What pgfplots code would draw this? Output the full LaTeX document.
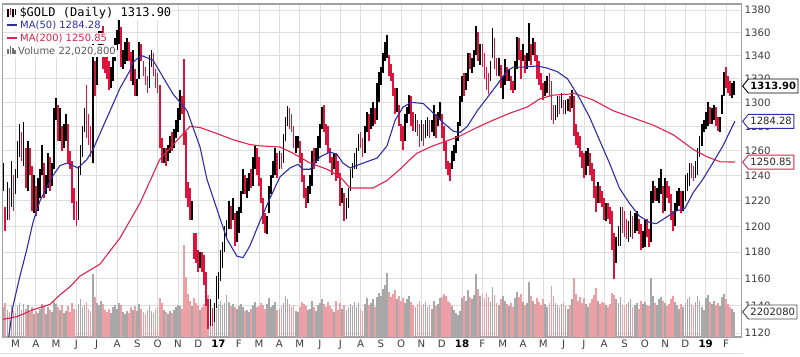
\documentclass[border=0pt]{standalone}
\usepackage{pgfplots}
\usepackage{pgfplotstable}
\pgfplotsset{compat=1.18}
\usetikzlibrary{shapes.symbols}
\usepackage{fontspec}
\setmainfont{DejaVu Sans}
\newfontfamily\monofont{DejaVu Sans Mono}
\definecolor{dncol}{RGB}{220,20,60}
\definecolor{ma50}{RGB}{45,45,165}
\definecolor{ma200}{RGB}{222,35,75}
\definecolor{volgray}{RGB}{168,168,168}
\definecolor{volpink}{RGB}{236,160,165}
\definecolor{gridc}{RGB}{222,222,222}
\definecolor{framec}{RGB}{160,160,160}
\definecolor{labc}{RGB}{60,60,60}

\pgfplotstableread{
x l h c v
1.4 1228 1250 1 2.6
1.5 1196 1215 0 3.0
1.6 1205 1235 1 2.4
1.7 1205 1230 0 2.2
1.8 1215 1252 1 2.8
1.9 1212 1240 0 2.3
2.0 1225 1245 1 2.1
2.1 1238 1268 1 2.7
2.2 1255 1282 1 3.0
2.3 1252 1275 0 2.4
2.4 1248 1284 1 2.9
2.5 1230 1262 0 2.5
2.6 1228 1268 1 2.8
2.7 1240 1262 0 2.2
2.8 1212 1248 0 2.6
2.9 1210 1240 1 2.0
3.0 1208 1232 0 2.3
3.1 1212 1238 1 2.1
3.2 1222 1245 1 2.5
3.3 1240 1265 1 2.9
3.4 1222 1250 0 2.7
3.5 1225 1240 1 2.0
3.6 1230 1258 1 2.6
3.7 1228 1255 0 2.4
3.8 1232 1250 1 2.2
3.9 1245 1295 1 3.1
4.0 1285 1304 1 2.9
4.1 1268 1298 0 2.6
4.2 1268 1295 1 2.4
4.3 1260 1280 0 2.8
4.4 1262 1282 1 2.1
4.5 1268 1290 1 2.3
4.6 1250 1282 0 2.7
4.7 1245 1260 0 2.2
4.8 1218 1252 0 3.0
4.9 1205 1230 0 2.5
5.0 1200 1220 0 2.4
5.1 1205 1248 1 2.9
5.2 1240 1265 1 3.3
5.3 1255 1280 1 2.6
5.4 1275 1295 1 2.8
5.5 1270 1315 0 3.1
5.6 1265 1290 0 2.5
5.7 1255 1280 0 2.3
5.8 1250 1358 1 5.5
5.9 1305 1335 0 3.5
6.0 1315 1345 1 3.0
6.1 1340 1362 1 2.8
6.2 1345 1375 1 3.2
6.3 1328 1366 0 2.9
6.4 1325 1345 0 2.4
6.5 1320 1340 0 2.2
6.6 1310 1335 0 2.5
6.7 1312 1330 1 2.1
6.8 1318 1342 1 2.6
6.9 1335 1355 1 2.8
7.0 1345 1362 1 2.5
7.1 1350 1372 1 3.0
7.2 1330 1365 0 2.8
7.3 1328 1345 1 2.2
7.4 1333 1352 1 2.0
7.5 1335 1355 1 2.3
7.6 1335 1352 0 2.1
7.7 1318 1343 0 2.6
7.8 1315 1345 1 2.4
7.9 1305 1328 0 2.7
8.0 1305 1320 1 2.3
8.1 1320 1352 1 2.9
8.2 1335 1350 0 2.5
8.3 1322 1335 0 2.2
8.4 1315 1330 0 2.0
8.5 1308 1322 0 2.4
8.6 1312 1340 1 2.7
8.7 1330 1345 1 2.3
8.8 1322 1342 0 2.1
8.9 1312 1328 0 2.5
9.0 1308 1325 0 2.6
9.1 1262 1315 0 3.4
9.2 1250 1270 0 3.0
9.3 1250 1262 1 2.4
9.4 1248 1262 0 2.2
9.5 1252 1265 1 2.0
9.6 1258 1272 1 2.3
9.7 1260 1275 0 2.1
9.8 1262 1278 1 2.4
9.9 1270 1285 1 2.6
10.0 1275 1295 1 2.8
10.1 1285 1310 1 2.7
10.2 1290 1305 0 2.5
10.3 1265 1337 0 8.1
10.4 1222 1275 0 5.3
10.5 1215 1235 0 3.8
10.6 1205 1230 0 3.2
10.7 1205 1220 1 2.7
10.8 1175 1195 0 3.4
10.9 1172 1195 0 3.0
11.0 1165 1182 0 2.8
11.1 1168 1180 1 2.4
11.2 1165 1180 0 2.6
11.3 1155 1178 0 2.9
11.4 1140 1165 0 3.5
11.5 1123 1145 0 3.7
11.6 1125 1145 1 2.8
11.7 1125 1138 0 2.3
11.8 1128 1142 1 2.0
11.9 1138 1162 1 2.5
12.0 1145 1165 1 2.9
12.1 1158 1182 1 3.2
12.2 1168 1188 1 2.8
12.3 1180 1200 1 3.0
12.4 1190 1205 1 3.7
12.5 1198 1220 1 3.1
12.6 1198 1216 0 2.7
12.7 1205 1222 1 2.9
12.8 1185 1210 0 2.6
12.9 1188 1212 1 2.5
13.0 1195 1215 1 2.7
13.1 1210 1228 1 2.9
13.2 1225 1245 1 2.6
13.3 1225 1240 0 2.3
13.4 1222 1238 1 2.4
13.5 1228 1242 1 2.2
13.6 1230 1245 0 2.5
13.7 1232 1255 1 2.8
13.8 1245 1264 1 3.1
13.9 1240 1262 0 2.6
14.0 1232 1255 0 2.7
14.1 1218 1238 0 3.0
14.2 1202 1222 0 2.8
14.3 1195 1210 0 2.5
14.4 1194 1208 1 2.9
14.5 1210 1232 1 3.4
14.6 1225 1240 1 2.6
14.7 1238 1252 1 2.8
14.8 1240 1262 1 3.1
14.9 1238 1258 0 2.4
15.0 1245 1260 1 2.5
15.1 1245 1258 0 2.7
15.2 1250 1274 1 3.0
15.3 1268 1288 1 3.6
15.4 1280 1297 1 3.3
15.5 1278 1295 0 2.9
15.6 1275 1290 0 2.6
15.7 1262 1280 0 2.8
15.8 1258 1272 1 2.3
15.9 1262 1272 1 2.2
16.0 1250 1268 0 2.6
16.1 1235 1258 0 3.1
16.2 1222 1240 0 2.9
16.3 1214 1230 0 2.7
16.4 1218 1232 1 2.4
16.5 1225 1240 1 2.5
16.6 1232 1260 1 3.2
16.7 1245 1262 0 2.6
16.8 1250 1262 1 2.3
16.9 1252 1272 1 2.8
17.0 1262 1282 1 3.0
17.1 1278 1296 1 3.3
17.2 1275 1298 0 2.9
17.3 1265 1282 0 2.6
17.4 1258 1280 0 3.1
17.5 1250 1262 0 2.7
17.6 1240 1255 0 2.5
17.7 1245 1258 1 2.2
17.8 1236 1258 0 3.2
17.9 1238 1252 0 2.4
18.0 1216 1242 0 3.0
18.1 1218 1230 1 2.5
18.2 1204 1226 0 2.8
18.3 1206 1222 1 2.4
18.4 1214 1230 1 2.6
18.5 1228 1245 1 2.9
18.6 1238 1250 1 2.7
18.7 1245 1258 1 3.1
18.8 1245 1262 1 2.6
18.9 1260 1274 1 3.0
19.0 1262 1275 0 2.5
19.1 1255 1270 0 2.3
19.2 1258 1280 1 2.9
19.3 1275 1292 1 3.4
19.4 1268 1290 0 2.8
19.5 1278 1295 1 3.0
19.6 1280 1300 1 3.3
19.7 1282 1295 0 2.6
19.8 1285 1316 1 3.5
19.9 1300 1326 1 3.9
20.0 1315 1330 1 3.6
20.1 1325 1342 1 4.2
20.2 1335 1352 1 4.6
20.3 1338 1358 1 5.6
20.4 1322 1340 0 4.0
20.5 1318 1333 0 3.5
20.6 1305 1325 0 3.8
20.7 1290 1312 0 4.1
20.8 1292 1312 1 3.3
20.9 1280 1298 0 3.6
21.0 1268 1282 0 3.2
21.1 1261 1280 0 3.4
21.2 1268 1290 1 3.0
21.3 1283 1296 1 3.3
21.4 1290 1306 1 3.6
21.5 1280 1305 0 3.1
21.6 1276 1292 0 2.8
21.7 1275 1290 1 2.6
21.8 1272 1285 0 2.9
21.9 1263 1282 0 3.2
22.0 1268 1285 1 2.7
22.1 1264 1282 0 2.9
22.2 1270 1285 1 3.1
22.3 1272 1288 1 2.6
22.4 1270 1285 0 2.8
22.5 1275 1285 1 2.5
22.6 1272 1298 1 3.2
22.7 1270 1290 0 2.7
22.8 1280 1292 1 2.9
22.9 1285 1300 1 3.4
23.0 1270 1290 0 3.5
23.1 1260 1280 0 3.8
23.2 1245 1268 0 3.6
23.3 1240 1252 0 3.2
23.4 1236 1250 0 3.0
23.5 1245 1260 1 2.7
23.6 1252 1265 1 2.4
23.7 1258 1272 1 2.1
23.8 1268 1284 1 1.9
23.9 1280 1305 1 2.3
24.0 1300 1322 1 3.4
24.1 1305 1325 0 3.6
24.2 1310 1325 1 3.2
24.3 1318 1342 1 4.1
24.4 1328 1342 0 3.5
24.5 1325 1338 1 3.3
24.6 1330 1345 1 3.7
24.7 1340 1366 1 5.5
24.8 1335 1360 0 4.2
24.9 1332 1350 1 3.6
25.0 1330 1350 0 3.8
25.1 1320 1342 0 3.4
25.2 1310 1330 0 3.9
25.3 1307 1325 0 3.5
25.4 1318 1335 1 3.1
25.5 1338 1364 1 4.4
25.6 1328 1355 0 3.7
25.7 1322 1338 0 3.0
25.8 1322 1338 1 2.8
25.9 1312 1332 0 3.3
26.0 1303 1322 1 3.6
26.1 1315 1337 1 3.2
26.2 1318 1330 0 2.9
26.3 1318 1328 1 2.7
26.4 1310 1322 0 3.0
26.5 1308 1318 0 2.6
26.6 1310 1335 1 3.4
26.7 1328 1356 1 4.0
26.8 1336 1355 0 3.5
26.9 1320 1345 0 3.8
27.0 1335 1350 1 3.1
27.1 1325 1340 0 2.8
27.2 1328 1342 1 3.0
27.3 1335 1368 1 4.8
27.4 1332 1350 0 3.6
27.5 1340 1355 1 3.2
27.6 1335 1352 0 2.9
27.7 1320 1340 0 3.4
27.8 1315 1335 0 3.1
27.9 1310 1325 0 2.8
28.0 1302 1316 0 3.3
28.1 1305 1318 1 2.9
28.2 1308 1322 1 2.6
28.3 1305 1325 0 3.0
28.4 1285 1318 0 4.5
28.5 1282 1298 0 3.6
28.6 1285 1298 1 3.0
28.7 1288 1305 1 2.8
28.8 1290 1305 0 2.6
28.9 1295 1308 1 2.9
29.0 1290 1302 0 3.1
29.1 1290 1302 1 2.7
29.2 1293 1303 1 2.5
29.3 1292 1305 0 2.8
29.4 1295 1310 1 3.3
29.5 1272 1305 0 5.2
29.6 1265 1282 0 3.8
29.7 1262 1275 0 3.2
29.8 1255 1272 0 3.5
29.9 1246 1260 0 3.0
30.0 1238 1258 0 3.4
30.1 1240 1260 1 2.9
30.2 1248 1262 1 2.6
30.3 1240 1258 0 3.0
30.4 1236 1250 0 3.3
30.5 1222 1245 0 3.7
30.6 1211 1232 0 4.3
30.7 1218 1235 1 3.2
30.8 1218 1232 0 2.9
30.9 1215 1228 0 3.1
31.0 1205 1222 0 3.0
31.1 1204 1218 1 2.8
31.2 1206 1218 0 2.6
31.3 1202 1215 0 2.9
31.4 1182 1212 0 3.9
31.5 1160 1195 0 3.7
31.6 1172 1192 1 3.3
31.7 1185 1200 1 3.0
31.8 1185 1215 1 3.5
31.9 1195 1215 0 2.8
32.0 1192 1212 0 2.7
32.1 1190 1206 0 2.9
32.2 1188 1204 1 3.1
32.3 1192 1212 1 3.3
32.4 1190 1208 0 2.6
32.5 1195 1210 1 2.8
32.6 1196 1212 1 3.0
32.7 1194 1206 0 2.5
32.8 1182 1202 0 3.2
32.9 1183 1196 1 2.9
33.0 1184 1205 1 3.1
33.1 1192 1206 0 2.8
33.2 1184 1198 0 2.7
33.3 1188 1228 1 5.2
33.4 1218 1236 1 3.6
33.5 1220 1232 0 3.0
33.6 1220 1230 1 2.8
33.7 1218 1238 1 3.3
33.8 1225 1245 1 3.5
33.9 1210 1232 0 3.2
34.0 1212 1238 1 3.0
34.1 1222 1236 0 2.7
34.2 1218 1232 0 2.9
34.3 1205 1225 0 3.3
34.4 1196 1212 0 3.6
34.5 1200 1218 1 3.1
34.6 1212 1228 1 2.8
34.7 1216 1230 1 2.5
34.8 1210 1228 0 2.9
34.9 1212 1228 1 2.6
35.0 1220 1240 1 3.0
35.1 1228 1242 1 3.3
35.2 1232 1250 1 3.5
35.3 1238 1250 0 2.9
35.4 1236 1248 0 2.7
35.5 1238 1252 1 3.1
35.6 1240 1262 1 3.6
35.7 1255 1272 1 3.2
35.8 1264 1282 1 2.6
35.9 1275 1285 1 2.4
36.0 1278 1292 1 3.4
36.1 1280 1300 1 3.7
36.2 1282 1296 0 3.1
36.3 1282 1295 1 2.9
36.4 1285 1298 1 3.2
36.5 1280 1296 0 2.8
36.6 1276 1288 0 3.0
36.7 1275 1288 1 2.7
36.8 1290 1306 1 3.5
36.9 1305 1326 1 3.8
37.0 1312 1330 0 3.3
37.1 1308 1322 0 2.9
37.2 1305 1318 0 2.6
37.3 1304 1316 1 2.5
37.4 1306 1318 1 2.2
}\bars

\pgfplotsset{base/.style={at={(0,0)}, anchor=south west, scale only axis,
  width=739pt, height=333pt, xmin=1.335, xmax=37.74}}

\begin{document}
\begin{tikzpicture}
% ---------- grid and tick labels ----------
\begin{axis}[base, ymode=log, ymin=1117.3, ymax=1385.4,
  xtick={2,...,37},
  xticklabels={M,A,M,J,J,A,S,O,N,D,\textbf{\color{black}17},F,M,A,M,J,J,A,S,O,N,D,\textbf{\color{black}18},F,M,A,M,J,J,A,S,O,N,D,\textbf{\color{black}19},F},
  ytick={1120,1140,1160,1180,1200,1220,1240,1260,1280,1300,1320,1340,1360,1380},
  yticklabels={1120,1140,1160,1180,1200,1220,1240,1260,1280,1300,1320,1340,1360,1380},
  yticklabel pos=right,
  grid=major, major grid style={draw=gridc, line width=0.7pt},
  axis line style={draw=framec, line width=0.8pt},
  major tick length=0pt,
  tick label style={font=\fontsize{10.2}{12}\selectfont, text=labc},
]
\addplot[draw=none] coordinates {(2,1200)};
\end{axis}
% ---------- volume ----------
\begin{axis}[base, ymin=0, ymax=29.3, hide axis]
\addplot[ycomb, draw=volgray, line width=1.75pt, restrict expr to domain={\thisrow{c}}{1:1}] table[x=x, y=v] {\bars};
\addplot[ycomb, draw=volpink, line width=1.75pt, restrict expr to domain={\thisrow{c}}{0:0}] table[x=x, y=v] {\bars};
\coordinate (f4) at (axis cs:37.74,2.202);
\end{axis}
% ---------- price ----------
\begin{axis}[base, ymode=log, ymin=1117.3, ymax=1385.4, hide axis]
\addplot[draw=none, mark=none, restrict expr to domain={\thisrow{c}}{1:1},
  error bars/.cd, y dir=plus, y explicit, error mark=none,
  error bar style={line width=1.75pt, draw=black, solid}]
  table[x=x, y=l, y error plus expr={\thisrow{h}-\thisrow{l}}] {\bars};
\addplot[draw=none, mark=none, restrict expr to domain={\thisrow{c}}{0:0},
  error bars/.cd, y dir=plus, y explicit, error mark=none,
  error bar style={line width=1.75pt, draw=dncol, solid}]
  table[x=x, y=l, y error plus expr={\thisrow{h}-\thisrow{l}}] {\bars};
% MA(200)
\addplot[ma200, line width=1.1pt, line join=round] coordinates {
(1.38,1130) (2.07,1132) (2.86,1137) (3.70,1141) (4.19,1148) (4.68,1154) (5.18,1162)
(6.16,1171) (7.15,1191) (8.13,1218) (9.11,1253) (10.10,1271) (10.60,1280) (11.09,1279)
(11.93,1274) (12.71,1269) (13.55,1265) (14.04,1264) (15.03,1263) (15.67,1258) (16.51,1250)
(17.35,1245) (17.99,1239) (18.48,1230) (18.97,1230) (19.61,1230) (20.30,1236) (20.94,1245)
(21.44,1253) (21.78,1258) (22.56,1264) (23.25,1268) (23.89,1272) (24.73,1279) (25.52,1285)
(26.36,1291) (27.20,1296) (27.84,1303) (28.48,1306) (29.32,1307) (29.46,1308) (30.45,1302)
(31.44,1293) (32.43,1287) (33.42,1281) (34.41,1273) (35.39,1261) (36.08,1255) (36.72,1251)
(37.44,1250.85)};
% MA(50)
\addplot[ma50, line width=1.1pt, line join=round] coordinates {
(1.60,1110) (1.88,1140) (2.22,1162) (2.57,1183) (2.86,1203) (3.21,1220) (3.55,1231)
(3.85,1240) (4.19,1248) (4.54,1250) (4.83,1248) (5.08,1246) (5.52,1253) (5.82,1261)
(6.16,1274) (6.66,1293) (7.15,1312) (7.64,1327) (7.79,1334) (8.18,1340) (8.77,1336)
(9.11,1326) (9.76,1307) (10.45,1293) (11.09,1263) (11.43,1237) (11.93,1213) (12.42,1190)
(12.91,1177) (13.21,1176) (13.55,1185) (14.04,1204) (14.54,1222) (15.03,1239) (15.52,1246)
(15.92,1249) (16.16,1245) (16.51,1245) (17.00,1255) (17.49,1259) (17.84,1257) (18.13,1250)
(18.48,1246) (18.97,1249) (19.46,1252) (19.81,1254) (20.30,1264) (20.70,1285) (21.09,1296)
(21.50,1300) (22.09,1299) (22.58,1291) (23.07,1283) (23.57,1276) (23.91,1275) (24.26,1280)
(24.75,1293) (25.24,1304) (25.73,1315) (26.23,1327) (26.53,1330) (27.02,1330) (27.71,1331)
(28.20,1329) (28.69,1326) (29.19,1320) (29.77,1304) (30.27,1288) (30.76,1269) (31.26,1250)
(31.75,1230) (32.24,1218) (32.73,1208) (33.23,1203) (33.57,1202) (34.06,1207) (34.56,1212)
(34.98,1214) (35.37,1226) (35.86,1237) (36.35,1250) (36.85,1264) (37.44,1284.28)};
\coordinate (f1) at (axis cs:37.74,1313.9);
\coordinate (f2) at (axis cs:37.74,1284.28);
\coordinate (f3) at (axis cs:37.74,1250.85);
\end{axis}
% frame again on top
\draw[framec, line width=0.8pt] (0,0) rectangle (739pt,333pt);
% ---------- legend ----------
\node[anchor=west, fill=white, inner xsep=1pt, inner ysep=1.5pt, font=\monofont\fontsize{12}{14}\selectfont] at (4pt,324pt)
 {\raisebox{-0.5pt}{\rule{1.3pt}{8pt}}\hspace{1.2pt}\raisebox{1pt}{\textcolor{dncol}{\rule{1.3pt}{7pt}}}\hspace{1.2pt}\raisebox{-0.5pt}{\rule{1.3pt}{8pt}}\hspace{1.2pt}\raisebox{1pt}{\rule{1.3pt}{6pt}}\hspace{3.5pt}\$GOLD (Daily) 1313.90};
\node[anchor=west, fill=white, inner xsep=1pt, inner ysep=1.2pt, font=\fontsize{10}{12}\selectfont, text=ma50] at (4pt,311.5pt)
 {\rule[3pt]{10pt}{1.6pt}\hspace{3pt}MA(50) 1284.28};
\node[anchor=west, fill=white, inner xsep=1pt, inner ysep=1.2pt, font=\fontsize{10}{12}\selectfont, text=ma200] at (4pt,298.5pt)
 {\rule[3pt]{10pt}{1.6pt}\hspace{3pt}MA(200) 1250.85};
\node[anchor=west, fill=white, inner xsep=1pt, inner ysep=1.2pt, font=\fontsize{10}{12}\selectfont, text=black!65] at (4pt,286pt)
 {\textcolor{black!55}{\rule{1.8pt}{5pt}\hspace{0.6pt}\rule{1.8pt}{8pt}\hspace{0.6pt}\rule{1.8pt}{6pt}\hspace{0.6pt}\rule{1.8pt}{4pt}}\hspace{2pt}Volume 22,020,800};
% ---------- value flags ----------
\tikzset{flag/.style={signal, signal to=west, signal pointer angle=100, fill=white,
  line width=0.9pt, inner xsep=2pt, inner ysep=1pt, minimum height=14pt,
  font=\fontsize{10}{12}\selectfont, anchor=west}}
\node[flag, draw=black, font=\bfseries\fontsize{10}{12}\selectfont] at ([xshift=1pt]f1) {1313.90};
\node[flag, draw=ma50, text=black!85] at ([xshift=1pt]f2) {1284.28};
\node[flag, draw=ma200, text=black!85] at ([xshift=1pt]f3) {1250.85};
\node[flag, draw=black!70, text=black!85] at ([xshift=1pt]f4) {2202080};
% bottom rule
\draw[gridc, line width=0.8pt] (-2pt,-16pt) -- (741pt,-16pt);
\pgfresetboundingbox
\path[use as bounding box] (-2pt,-19pt) rectangle (798pt,337pt);
\end{tikzpicture}
\end{document}
